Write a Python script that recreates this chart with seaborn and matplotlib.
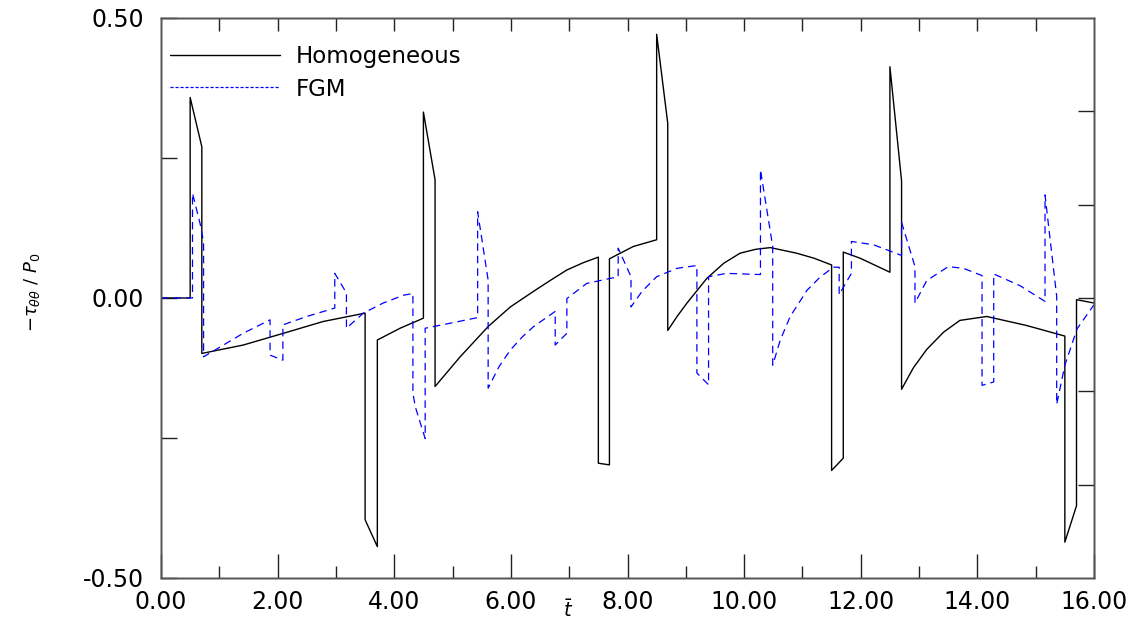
import numpy as np
import pandas as pd
import matplotlib
matplotlib.use("Agg")
import matplotlib.pyplot as plt
import seaborn as sns

# ---- data ----
homo_t = [0.00, 0.50, 0.50, 0.70, 0.70, 1.41, 2.10, 2.78, 3.50, 3.50, 3.71, 3.71,
          4.10, 4.50, 4.50, 4.70, 4.70, 5.13, 5.61, 5.99, 6.39, 6.67, 6.96, 7.24,
          7.50, 7.50, 7.69, 7.69, 8.10, 8.50, 8.50, 8.69, 8.69, 8.85, 9.02, 9.36,
          9.65, 9.93, 10.20, 10.45, 10.90, 11.20, 11.50, 11.50, 11.70, 11.70, 11.99,
          12.50, 12.50, 12.70, 12.70, 12.90, 13.13, 13.42, 13.70, 14.16, 14.84,
          15.50, 15.50, 15.70, 15.70, 16.00]
homo_v = [0.000, 0.000, 0.358, 0.270, -0.099, -0.084, -0.063, -0.042, -0.027, -0.396,
          -0.444, -0.075, -0.054, -0.036, 0.332, 0.211, -0.158, -0.105, -0.051, -0.016,
          0.012, 0.031, 0.050, 0.063, 0.073, -0.295, -0.298, 0.070, 0.092, 0.104,
          0.471, 0.312, -0.058, -0.033, -0.009, 0.035, 0.062, 0.080, 0.087, 0.090,
          0.080, 0.071, 0.059, -0.308, -0.286, 0.082, 0.071, 0.046, 0.413, 0.209,
          -0.163, -0.125, -0.092, -0.061, -0.040, -0.033, -0.049, -0.068, -0.436,
          -0.371, -0.003, -0.009]

fgm_t = [0.00, 0.54, 0.54, 0.67, 0.73, 0.73, 1.41, 1.87, 1.87, 2.09, 2.09, 2.50,
         2.98, 2.98, 3.18, 3.18, 3.47, 3.81, 4.16, 4.32, 4.32, 4.36, 4.53, 4.53,
         4.96, 5.43, 5.43, 5.61, 5.61, 5.80, 5.99, 6.20, 6.39, 6.76, 6.76, 6.96,
         6.96, 7.30, 7.84, 7.84, 8.06, 8.06, 8.25, 8.50, 8.85, 9.19, 9.19, 9.39,
         9.39, 9.70, 10.22, 10.28, 10.28, 10.49, 10.49, 10.62, 10.79, 11.08, 11.30,
         11.53, 11.63, 11.63, 11.84, 11.84, 12.22, 12.70, 12.70, 12.93, 12.93,
         13.13, 13.50, 13.76, 14.08, 14.08, 14.28, 14.28, 14.73, 15.16, 15.16,
         15.36, 15.36, 15.50, 15.71, 16.00]
fgm_v = [0.000, 0.000, 0.187, 0.133, 0.100, -0.105, -0.063, -0.039, -0.102, -0.111,
         -0.048, -0.033, -0.018, 0.044, 0.009, -0.054, -0.027, -0.009, 0.005, 0.008,
         -0.170, -0.194, -0.251, -0.054, -0.045, -0.035, 0.154, 0.032, -0.161, -0.122,
         -0.093, -0.069, -0.051, -0.024, -0.084, -0.063, -0.001, 0.026, 0.038, 0.089,
         0.038, -0.016, 0.012, 0.038, 0.053, 0.058, -0.134, -0.155, 0.038, 0.044,
         0.042, 0.042, 0.229, 0.092, -0.120, -0.075, -0.033, 0.014, 0.037, 0.055,
         0.055, 0.006, 0.044, 0.101, 0.095, 0.076, 0.135, 0.056, -0.009, 0.031,
         0.056, 0.053, 0.040, -0.156, -0.150, 0.043, 0.022, -0.006, 0.184, 0.003,
         -0.190, -0.120, -0.055, -0.012]

series_names = ["Homogeneous", "FGM"]
x_ticks = [0, 2, 4, 6, 8, 10, 12, 14, 16]
y_ticks = [-0.5, 0.0, 0.5]

# ---- style ----
sns.set_style("white")
plt.rcParams["font.family"] = ["DejaVu Sans"]
plt.rcParams["axes.unicode_minus"] = False
plt.rcParams["mathtext.fontset"] = "dejavusans"
plt.rcParams["text.color"] = "black"
plt.rcParams["axes.labelcolor"] = "black"
plt.rcParams["xtick.color"] = "black"
plt.rcParams["ytick.color"] = "black"

fig = plt.figure(figsize=(11.41, 6.26), dpi=100)
ax = fig.add_axes([0.14111, 0.07668, 0.81770, 0.89457])

df_h = pd.DataFrame({"t": homo_t, "v": homo_v})
df_f = pd.DataFrame({"t": fgm_t, "v": fgm_v})

sns.lineplot(data=df_h, x="t", y="v", estimator=None, sort=False, ax=ax,
             color="black", linewidth=1.0, label=series_names[0])
sns.lineplot(data=df_f, x="t", y="v", estimator=None, sort=False, ax=ax,
             color="#0000ff", linewidth=0.9, label=series_names[1])
ax.lines[1].set_dashes((6, 4))

ax.set_xlim(0, 16)
ax.set_ylim(-0.5, 0.5)

spine_col = "#555555"
for s in ax.spines.values():
    s.set_color(spine_col)
    s.set_linewidth(1.0)

# bottom / left ticks
ax.set_xticks(x_ticks)
ax.set_xticklabels([f"{v:.2f}" for v in x_ticks])
ax.set_xticks(np.arange(1, 16, 2), minor=True)
ax.set_yticks(y_ticks)
ax.set_yticklabels([f"{v:.2f}" for v in y_ticks])
ax.set_yticks([-0.25, 0.25], minor=True)
ax.tick_params(axis="x", which="major", direction="in", length=17, width=1.0,
               color="#222222", labelcolor="black", labelsize=17, pad=9, top=False)
ax.tick_params(axis="x", which="minor", direction="in", length=8.5, width=1.0,
               color="#222222", top=False)
ax.tick_params(axis="y", which="both", direction="in", length=11.5, width=1.0,
               color="#222222", labelcolor="black", labelsize=17, pad=12, right=False)

# top and right ticks (different spacing)
axt = ax.twiny()
axt.set_xlim(0, 16)
axt.set_xticks(np.arange(1, 16, 1))
axt.tick_params(axis="x", direction="in", length=9.5, width=1.0, color="#222222",
                labeltop=False, top=True)
axr = ax.twinx()
axr.set_ylim(-0.5, 0.5)
axr.set_yticks([-1/3, -1/6, 0, 1/6, 1/3])
axr.tick_params(axis="y", direction="in", length=11.5, width=1.0, color="#222222",
                labelright=False, right=True)
for a in (axt, axr):
    for s in a.spines.values():
        s.set_color(spine_col)
        s.set_linewidth(1.0)

# labels
ax.set_xlabel(r"$\bar{t}$", fontsize=14, color="black")
ax.xaxis.set_label_coords(0.436, -0.038)
ax.set_ylabel(r"$-\tau_{\theta\theta}\ /\ P_0$", fontsize=13, color="black")
ax.yaxis.set_label_coords(-0.128, 0.51)

leg = ax.legend(loc="upper left", bbox_to_anchor=(0.0096, 0.952), frameon=False,
                fontsize=16.5, handlelength=4.8, handletextpad=0.7,
                labelspacing=0.42, borderpad=0.0, borderaxespad=0.0)
for txt in leg.get_texts():
    txt.set_color("black")
leg.get_lines()[1].set_dashes((2.5, 1.5))
leg.get_lines()[1].set_linewidth(0.9)
leg.set_zorder(5)

fig.savefig("out.png", dpi=100)
